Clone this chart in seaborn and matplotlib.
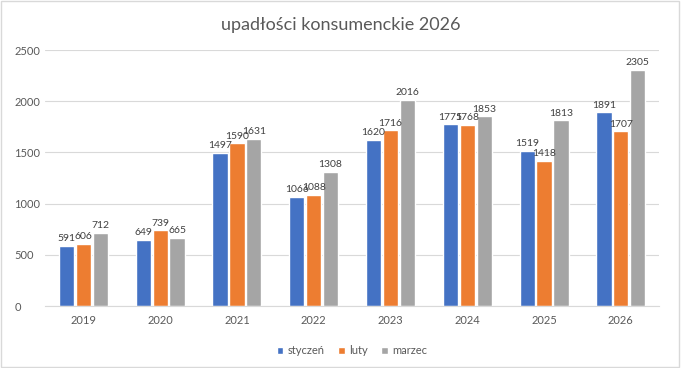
import pandas as pd
import matplotlib
matplotlib.use('Agg')
import matplotlib.pyplot as plt
import seaborn as sns
from matplotlib.patches import Rectangle

# Data
years = ['2019', '2020', '2021', '2022', '2023', '2024', '2025', '2026']
styczen = [591, 649, 1497, 1066, 1620, 1775, 1519, 1891]
luty = [606, 739, 1590, 1088, 1716, 1768, 1418, 1707]
marzec = [712, 665, 1631, 1308, 2016, 1853, 1813, 2305]
months = ['styczeń', 'luty', 'marzec']

colors = ['#4472C4', '#ED7D31', '#A5A5A5']

df = pd.DataFrame({
    'rok': years * 3,
    'miesiąc': [m for m in months for _ in years],
    'wartość': styczen + luty + marzec,
})

sns.set_style('white')
plt.rcParams['font.family'] = ['Lato', 'DejaVu Sans']

fig = plt.figure(figsize=(6.81, 3.68), dpi=100)
ax = fig.add_axes([0.066, 0.168, 0.902, 0.696])

sns.barplot(data=df, x='rok', y='wartość', hue='miesiąc', palette=colors,
            saturation=1, width=0.66, gap=0.1, ax=ax, legend=True)

# Data labels
for cont in ax.containers:
    ax.bar_label(cont, fmt='%d', padding=2, fontsize=7.5, color='#404040')

ax.set_ylim(0, 2500)
ax.set_yticks(range(0, 2501, 500))
ax.set_xlim(-0.5, len(years) - 0.5)
ax.yaxis.grid(True, color='#D9D9D9', lw=0.8)
ax.set_axisbelow(True)
for s in ['top', 'right', 'left']:
    ax.spines[s].set_visible(False)
ax.spines['bottom'].set_color('#D9D9D9')
ax.tick_params(axis='both', length=0, labelsize=8, labelcolor='#595959')
ax.tick_params(axis='x', pad=6)
ax.tick_params(axis='y', pad=22)
for lbl in ax.get_yticklabels():
    lbl.set_horizontalalignment('left')
ax.set_xlabel('')
ax.set_ylabel('')

fig.suptitle('upadłości konsumenckie 2026', y=0.955, fontsize=13, color='#595959')

handles, labels = ax.get_legend_handles_labels()
ax.legend(handles, labels, loc='lower center', bbox_to_anchor=(0.5, -0.235),
          ncol=3, frameon=False, fontsize=8, labelcolor='#595959',
          handlelength=0.6, handleheight=0.6, handletextpad=0.4, columnspacing=1.2)

# Light border round the whole chart
fig.patches.append(Rectangle((0.002, 0.003), 0.995, 0.993, transform=fig.transFigure,
                             fill=False, edgecolor='#D9D9D9', lw=1))

plt.savefig('out.png', dpi=100)
